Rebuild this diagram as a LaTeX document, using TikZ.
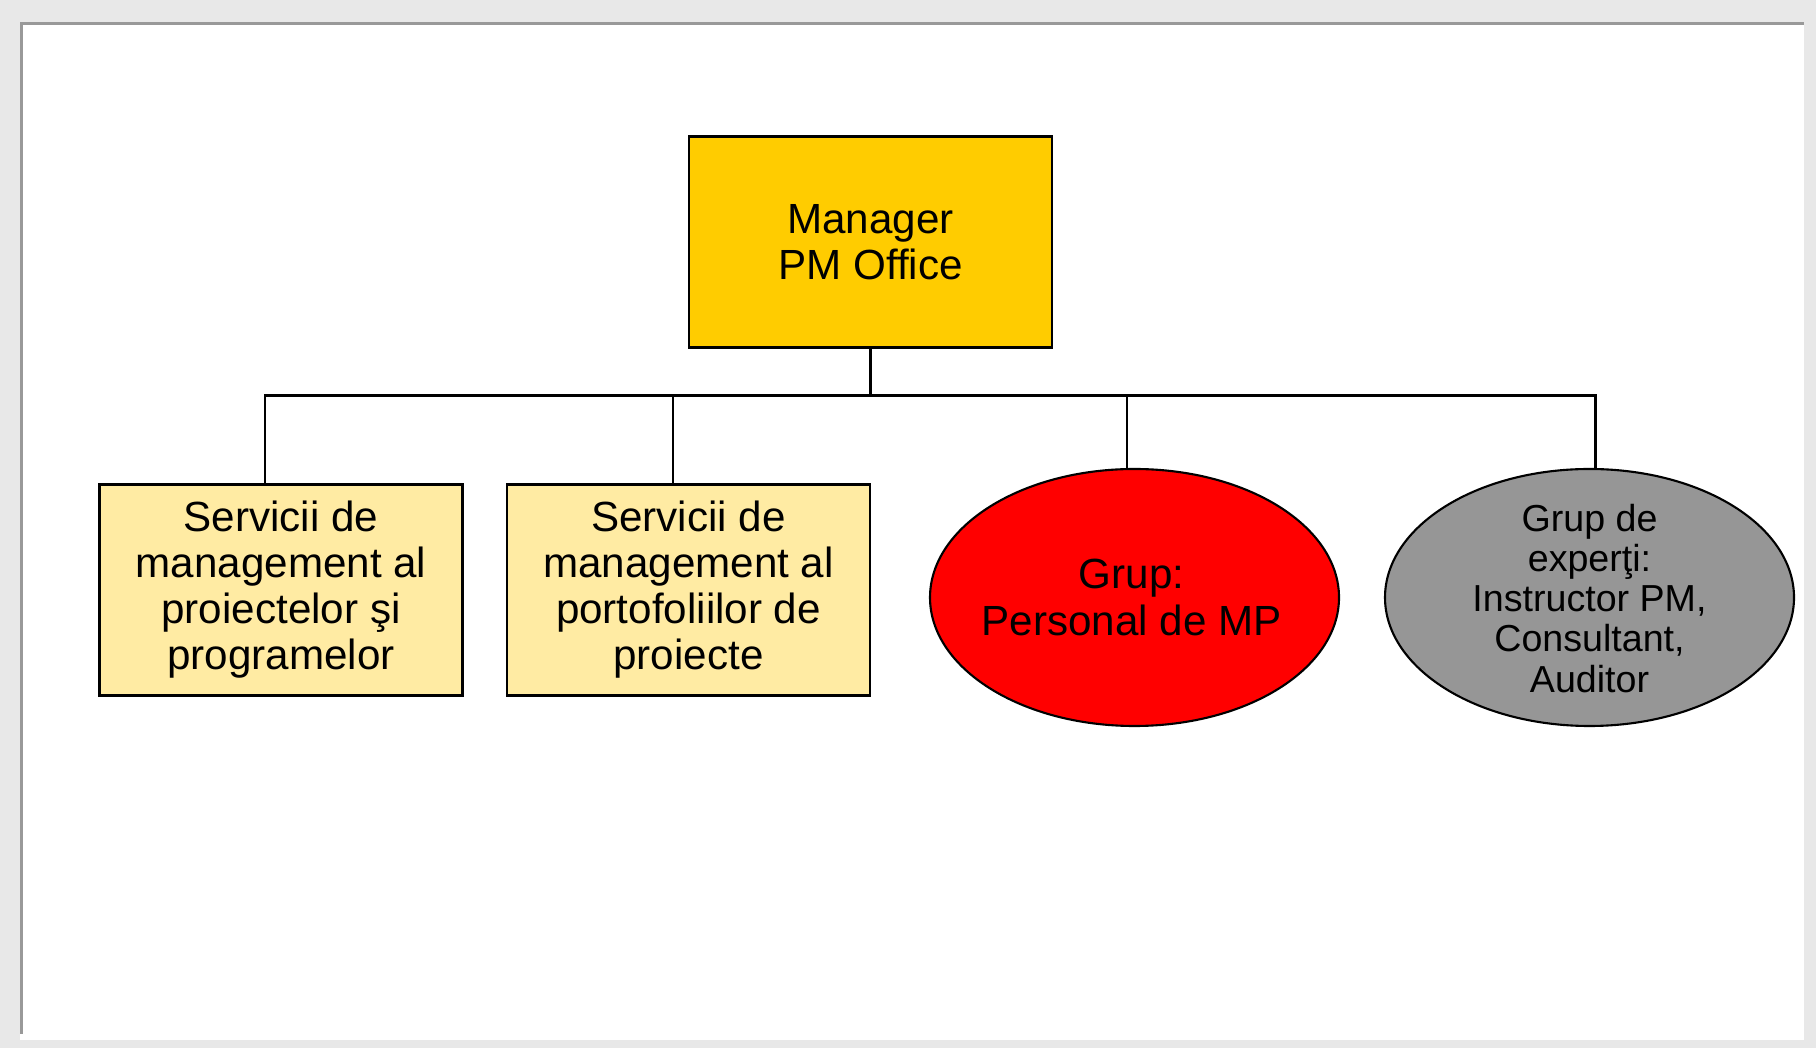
\documentclass[tikz,border=0pt]{standalone}
\usepackage{fontspec}
\setmainfont{Liberation Sans}
\usepackage{tikz}
\usetikzlibrary{shapes.geometric}

\definecolor{mgrcol}{HTML}{FFCC00}
\definecolor{srvcol}{HTML}{FFEBA3}
\definecolor{expcol}{HTML}{969696}
\definecolor{panelcol}{HTML}{E8E8E8}

\begin{document}
\begin{tikzpicture}[semithick, font=\fontsize{12}{13.1}\selectfont,
	box/.style={draw, rectangle, minimum width=3.63cm, minimum height=2.11cm, align=center, inner sep=0pt},
	grp/.style={draw, ellipse, minimum width=4.09cm, minimum height=2.57cm, inner sep=0pt}]
	  \useasboundingbox (0,0) rectangle (18.16,10.48);
	  \fill[panelcol] (0,0) rectangle (18.16,10.48);
	  \fill[white] (0.20,0.08) rectangle (18.04,10.26);
	  \fill[black!40] (0.20,0.14) rectangle (0.23,10.26);
	  \fill[black!40] (0.20,10.23) rectangle (18.04,10.26);

	  \node[box, fill=mgrcol] (M) at (8.705,8.06) {Manager\\PM Office};
	  \node[box, fill=srvcol] (S1) at (2.81,4.58) {Servicii de\\management al\\proiectelor şi\\programelor};
	  \node[box, fill=srvcol] (S2) [right of=S1, node distance=4.075cm] {Servicii de\\management al\\portofoliilor de\\proiecte};
	  \node[grp, fill=red] (G1) at (11.345,4.505) {};
	  \node[align=center] (G1t) at ([xshift=-0.03cm]G1) {Grup:\\Personal de MP};
	  \node[grp, fill=expcol] (G2) [right of=G1, node distance=4.55cm] {};
	  \node[align=center, font=\fontsize{10.7}{11.4}\selectfont] (G2t) at ([yshift=-0.01cm]G2) {Grup de\\experţi:\\Instructor PM,\\Consultant,\\Auditor};

	  \coordinate (B) at ([yshift=-0.47cm]M.south);
	  \draw (M.south) -- (B);
	  \draw ([xshift=-1.6mm]S1.north) |- (B) -| ([xshift=0.6mm]G2.north);
	  \draw ([xshift=-1.55mm]S2.north) |- (B);
	  \draw ([xshift=-0.75mm]G1.north) |- (B);
\end{tikzpicture}
\end{document}
